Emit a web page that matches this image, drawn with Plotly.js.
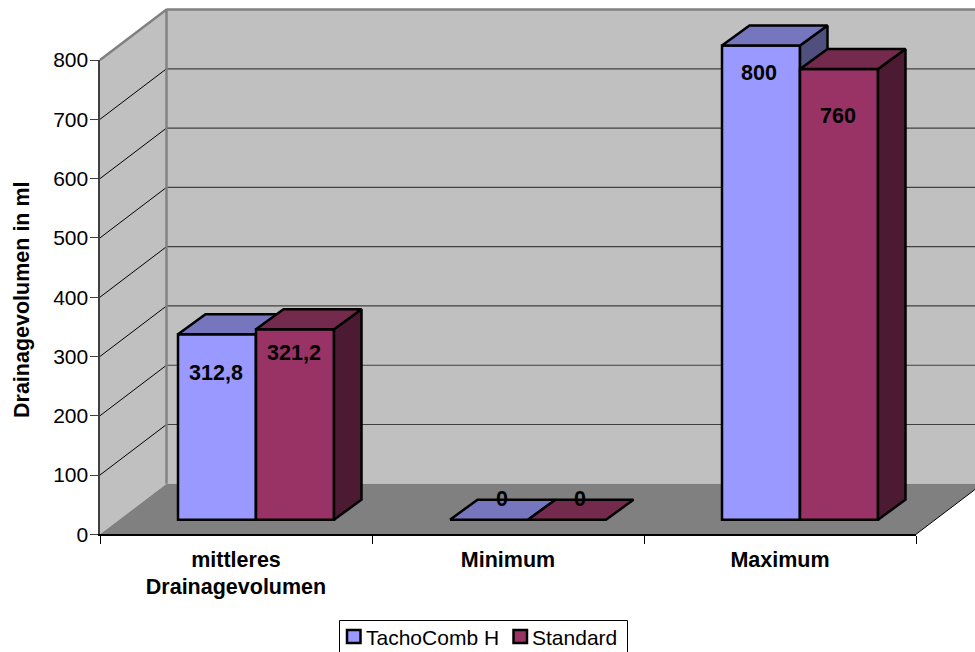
<!DOCTYPE html>
<html>
<head>
<meta charset="utf-8">
<script src="https://cdn.plot.ly/plotly-3.0.1.min.js"></script>
<style>html,body{margin:0;padding:0;background:#fff;overflow:hidden}#c{width:975px;height:652px}</style>
</head>
<body>
<div id="c"></div>
<script>
var categories = ['mittleres<br>Drainagevolumen', 'Minimum', 'Maximum'];
var seriesA = [312.8, 0, 800];
var seriesB = [321.2, 0, 760];
var nameA = 'TachoComb H';
var nameB = 'Standard';
var yTicks = [0, 100, 200, 300, 400, 500, 600, 700, 800];
var yTitle = 'Drainagevolumen in ml';

var W = 975, H = 652;
var px0 = 100, pxEnd = 916, py0 = 534.3, py800 = 60;
var catPx = (pxEnd - px0) / 3;
var valPx = (py0 - py800) / 800;
var FONT = '"Liberation Sans", Arial, sans-serif';
var FS = 21, FSB = 21.5;
function dxPx(p) { return p / catPx; }
function dyPx(p) { return p / valPx; }
var xLo = -0.5 - px0 / catPx, xHi = xLo + W / catPx;
var yLo = -(H - py0) / valPx, yHi = py0 / valPx;
var wallDx = dxPx(66.5), wallDy = dyPx(50.5);
var barW = dxPx(78), barShift = dxPx(20);
var baseY = dyPx(14.6);
var depX = dxPx(27.5), depY = dyPx(20);
var xL = -0.5, xR = 2.5;
var colorA = '#9999FF', colorB = '#993366';

function poly(xs, ys, fill, lc, lw, ax) {
  return { type: 'scatter', mode: 'lines', x: xs, y: ys, fill: fill ? 'toself' : 'none',
    fillcolor: fill || undefined, line: { color: lc, width: lw, shape: 'linear' },
    xaxis: ax[0], yaxis: ax[1], showlegend: false, hoverinfo: 'skip' };
}
var A0 = ['x', 'y'], A1 = ['x2', 'y2'], A2 = ['x3', 'y3'], A3 = ['x4', 'y4'];
var traces = [];

// floor and walls
var yMax = yTicks[yTicks.length - 1];
traces.push(poly([xL + wallDx, xR + wallDx + 1, xR + wallDx + 1, xL + wallDx, xL + wallDx],
  [wallDy, wallDy, yMax + wallDy, yMax + wallDy, wallDy], '#C0C0C0', 'rgba(0,0,0,0)', 0, A0));
traces.push(poly([xL, xL + wallDx, xL + wallDx, xL, xL],
  [0, wallDy, yMax + wallDy, yMax, 0], '#C0C0C0', 'rgba(0,0,0,0)', 0, A0));
traces.push(poly([xL, xL + wallDx, xR + wallDx, xR, xL],
  [0, wallDy, wallDy, 0, 0], '#808080', 'rgba(0,0,0,0)', 0, A0));
// grid lines
yTicks.slice(1, -1).forEach(function (t) {
  traces.push(poly([xL, xL + wallDx], [t, t + wallDy], null, '#000000', 1, A0));
  traces.push(poly([xL + wallDx, xR + wallDx + 1], [t + wallDy, t + wallDy], null, '#404040', 1.2, A0));
});
// wall edges
traces.push(poly([xL, xL + wallDx, xL + wallDx], [yMax, yMax + wallDy, wallDy], null, '#808080', 2.4, A0));
traces.push(poly([xL + wallDx, xR + wallDx + 1], [yMax + wallDy, yMax + wallDy], null, '#808080', 2.4, A0));
traces.push(poly([xR, xR + wallDx], [0, wallDy], null, '#000000', 1, A0));

function series(vals, name, off, cFront, cTop, cSide, ax) {
  var xs = categories.map(function (c, i) { return i + barShift + off * barW / 2; });
  traces.push({ type: 'bar', name: name, x: xs, y: vals, base: baseY, width: barW,
    marker: { color: cFront, line: { color: '#000', width: 2.5 } },
    xaxis: ax[0], yaxis: ax[1], hoverinfo: 'skip', showlegend: false });
  vals.forEach(function (v, i) {
    var l = xs[i] - barW / 2, r = xs[i] + barW / 2, top = baseY + v;
    if (v > 0) {
      traces.push(poly([r, r + depX, r + depX, r, r], [baseY, baseY + depY, top + depY, top, baseY], cSide, '#000', 2.5, ax));
    }
    traces.push(poly([l, r, r + depX, l + depX, l], [top, top, top + depY, top + depY, top], cTop, '#000', 2.5, ax));
  });
}
series(seriesA, nameA, -1, colorA, '#7676BE', '#50507E', A1);
series(seriesB, nameB, 1, colorB, '#732A4D', '#4D1A33', A2);

// value labels: pixel drop below the bar top, pixel shift from the bar centre
function labels(vals, off, drops, shifts, ax) {
  traces.push({ type: 'scatter', mode: 'text', xaxis: ax[0], yaxis: ax[1], showlegend: false, hoverinfo: 'skip',
    x: vals.map(function (v, i) { return i + barShift + off * barW / 2 + dxPx(shifts[i]); }),
    y: vals.map(function (v, i) { return baseY + v - dyPx(drops[i]); }),
    text: vals.map(function (v) { return String(v).replace('.', ','); }),
    textposition: 'middle center',
    textfont: { family: FONT, size: FSB, color: '#000', weight: 'bold' } });
}
labels(seriesA, -1, [40.5, -19.5, 29.5], [-1, 13, -2], A1);
labels(seriesB, 1, [25.5, -19.5, 48.5], [-1, 13, -1], A2);

// carrier for the visible axes
traces.push({ type: 'scatter', mode: 'markers', x: categories, y: seriesA.map(function () { return 0; }),
  marker: { opacity: 0, size: 1 }, xaxis: 'x4', yaxis: 'y4', showlegend: false, hoverinfo: 'skip' });

function px(x) { return x / W; }
function py(y) { return (H - y) / H; }
function box(x0, y0, x1, y1, fill, lw) {
  return { type: 'rect', xref: 'paper', yref: 'paper', x0: px(x0), x1: px(x1), y0: py(y0), y1: py(y1),
    fillcolor: fill, line: { color: '#000', width: lw }, layer: 'above' };
}
function legendText(t, x) {
  return { xref: 'paper', yref: 'paper', x: px(x), y: py(637), xanchor: 'left', yanchor: 'middle', text: t,
    showarrow: false, font: { family: FONT, size: FS, color: '#000' } };
}

var hidden = { visible: false, fixedrange: true };
var ov = function (a) { return Object.assign({ domain: [0, 1], anchor: a }, hidden); };
var layout = {
  width: W, height: H, autosize: false,
  margin: { l: 0, r: 0, t: 0, b: 0, pad: 0 },
  paper_bgcolor: '#fff', plot_bgcolor: 'rgba(0,0,0,0)',
  barmode: 'overlay', showlegend: false, hovermode: false,
  font: { family: FONT, color: '#000', size: FS },
  xaxis: Object.assign(ov('y'), { range: [xLo, xHi] }),
  yaxis: Object.assign(ov('x'), { range: [yLo, yHi] }),
  xaxis2: Object.assign(ov('y2'), { range: [xLo, xHi] }),
  yaxis2: Object.assign(ov('x2'), { range: [yLo, yHi] }),
  xaxis3: Object.assign(ov('y3'), { range: [xLo, xHi] }),
  yaxis3: Object.assign(ov('x3'), { range: [yLo, yHi] }),
  xaxis4: {
    domain: [px0 / W, pxEnd / W], anchor: 'y4', type: 'category', categoryorder: 'array', categoryarray: categories,
    range: [-0.5, 2.5], tickson: 'boundaries', ticks: 'outside', ticklen: 8, tickwidth: 1, tickcolor: '#000',
    showgrid: false, zeroline: false, showline: true, linecolor: '#000', linewidth: 1.4, tickangle: 0, automargin: false,
    ticklabelstandoff: 5,
    tickfont: { family: FONT, size: FSB, color: '#000', weight: 'bold' }, fixedrange: true
  },
  yaxis4: {
    domain: [(H - py0) / H, (H - py800) / H], anchor: 'x4', range: [0, yMax], tickmode: 'array', tickvals: yTicks,
    ticks: 'outside', ticklen: 8, tickwidth: 1, tickcolor: '#404040', showgrid: false, zeroline: false,
    showline: true, linecolor: '#404040', linewidth: 1.6, automargin: false, ticklabelstandoff: -2,
    tickfont: { family: FONT, size: FS, color: '#000' }, fixedrange: true
  },
  shapes: [
    box(339.5, 620.5, 627.5, 660, '#fff', 1),
    box(347, 630, 360.5, 643, colorA, 2.5),
    box(513.5, 630, 527, 643, colorB, 2.5)
  ],
  annotations: [
    legendText(nameA, 364), legendText(nameB, 530),
    { xref: 'paper', yref: 'paper', x: px(22), y: py(300), xanchor: 'center', yanchor: 'middle', textangle: -90,
      text: yTitle, showarrow: false, font: { family: FONT, size: FSB, color: '#000', weight: 'bold' } }
  ]
};
Plotly.newPlot('c', traces, layout, { displayModeBar: false, staticPlot: true });
</script>
</body>
</html>
